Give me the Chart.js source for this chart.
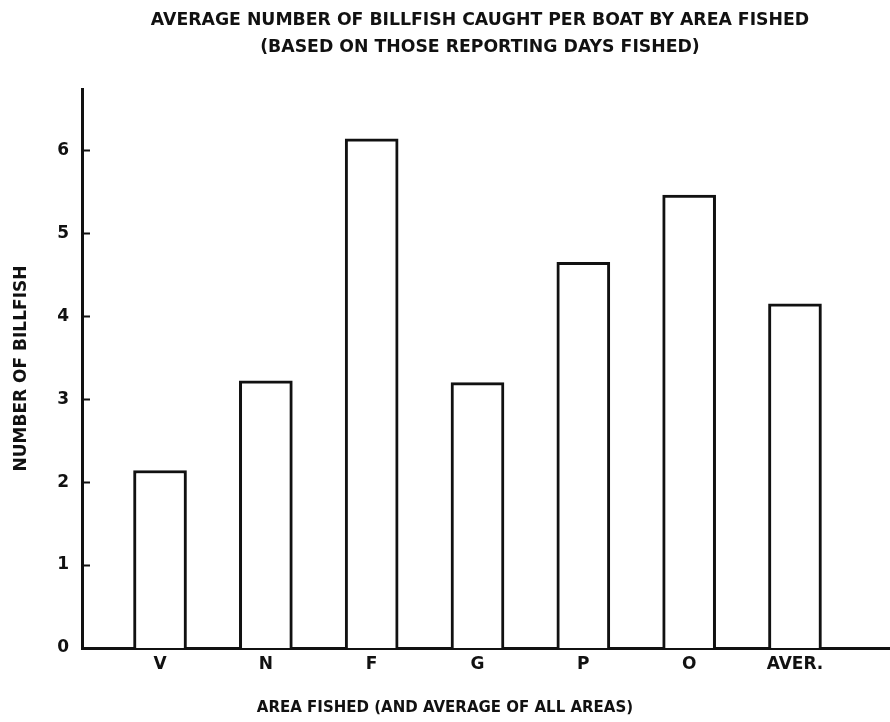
<!DOCTYPE html>
<html>
<head>
<meta charset="utf-8">
<title>Billfish per boat by area</title>
<script src="https://cdn.jsdelivr.net/npm/chart.js@4.4.1/dist/chart.umd.min.js"></script>
<style>
    body { margin: 0; background: #fff; }
    #wrap { position: relative; width: 890px; height: 722px; }
    #wrap canvas { position: absolute; left: 0; top: 0; }
    .caption {
        position: absolute;
        font-family: 'DejaVu Sans', sans-serif;
        font-weight: bold;
        color: #111;
        text-align: center;
        white-space: nowrap;
    }
    #chartTitle { left: 35px; top: 6px; width: 890px; font-size: 17.3px; line-height: 26.5px; }
    #xCaption { left: 0; top: 697px; width: 890px; font-size: 15px; line-height: 20px; }
</style>
</head>
<body>
<div id="wrap">
    <canvas id="billfishChart" width="890" height="722"></canvas>
    <div id="chartTitle" class="caption">AVERAGE NUMBER OF BILLFISH CAUGHT PER BOAT BY AREA FISHED<br>(BASED ON THOSE REPORTING DAYS FISHED)</div>
    <div id="xCaption" class="caption">AREA FISHED (AND AVERAGE OF ALL AREAS)</div>
</div>
<script>
// Promedio de picudos capturados por bote, por zona de pesca
const areas = ['V', 'N', 'F', 'G', 'P', 'O', 'AVER.'];
const billfishPerBoat = [2.14, 3.22, 6.14, 3.20, 4.65, 5.46, 4.15];
const yTicks = [0, 1, 2, 3, 4, 5, 6];

const ink = '#111';
const font = { family: "'DejaVu Sans', sans-serif", weight: 'bold', size: 17 };

// marcas cortas del eje y hacia dentro del grafico
const innerTicks = {
    id: 'innerTicks',
    afterDraw(chart) {
        const y = chart.scales.y;
        const c = chart.ctx;
        const x0 = chart.chartArea.left;
        c.save();
        c.strokeStyle = ink;
        c.lineWidth = 2;
        for (const t of y.ticks) {
            if (t.value === 0) continue;
            const py = Math.round(y.getPixelForValue(t.value)) + 0.5;
            c.beginPath();
            c.moveTo(x0, py);
            c.lineTo(x0 + 8, py);
            c.stroke();
        }
        c.restore();
    }
};

const ctx = document.getElementById('billfishChart').getContext('2d');

new Chart(ctx, {
    type: 'bar',
    data: {
        datasets: [{
            data: billfishPerBoat.map((v, i) => ({ x: i, y: v })),
            backgroundColor: '#fff',
            borderColor: ink,
            borderWidth: 3,
            barThickness: 53
        }]
    },
    options: {
        responsive: false,
        animation: false,
        layout: { padding: { top: 89, right: 0, bottom: 41.6, left: 0 } },
        plugins: {
            legend: { display: false },
            tooltip: { enabled: false }
        },
        scales: {
            x: {
                type: 'linear',
                offset: false,
                min: -0.737,
                max: 6.898,
                afterBuildTicks: axis => {
                    axis.ticks = areas.map((_, i) => ({ value: i }));
                },
                grid: { display: false, drawTicks: false, offset: false },
                border: { display: true, color: ink, width: 3 },
                ticks: {
                    color: ink,
                    font: font,
                    padding: 6,
                    maxRotation: 0,
                    autoSkip: false,
                    callback: v => areas[v]
                }
            },
            y: {
                min: 0,
                max: 6.74,
                afterBuildTicks: axis => {
                    axis.ticks = yTicks.map(v => ({ value: v }));
                },
                grid: { display: false, drawTicks: false },
                border: { display: true, color: ink, width: 3 },
                ticks: {
                    color: ink,
                    font: font,
                    padding: 13
                },
                title: {
                    display: true,
                    text: 'NUMBER OF BILLFISH',
                    color: ink,
                    font: font,
                    padding: { top: 11.8, bottom: 12 }
                }
            }
        }
    },
    plugins: [innerTicks]
});
</script>
</body>
</html>
